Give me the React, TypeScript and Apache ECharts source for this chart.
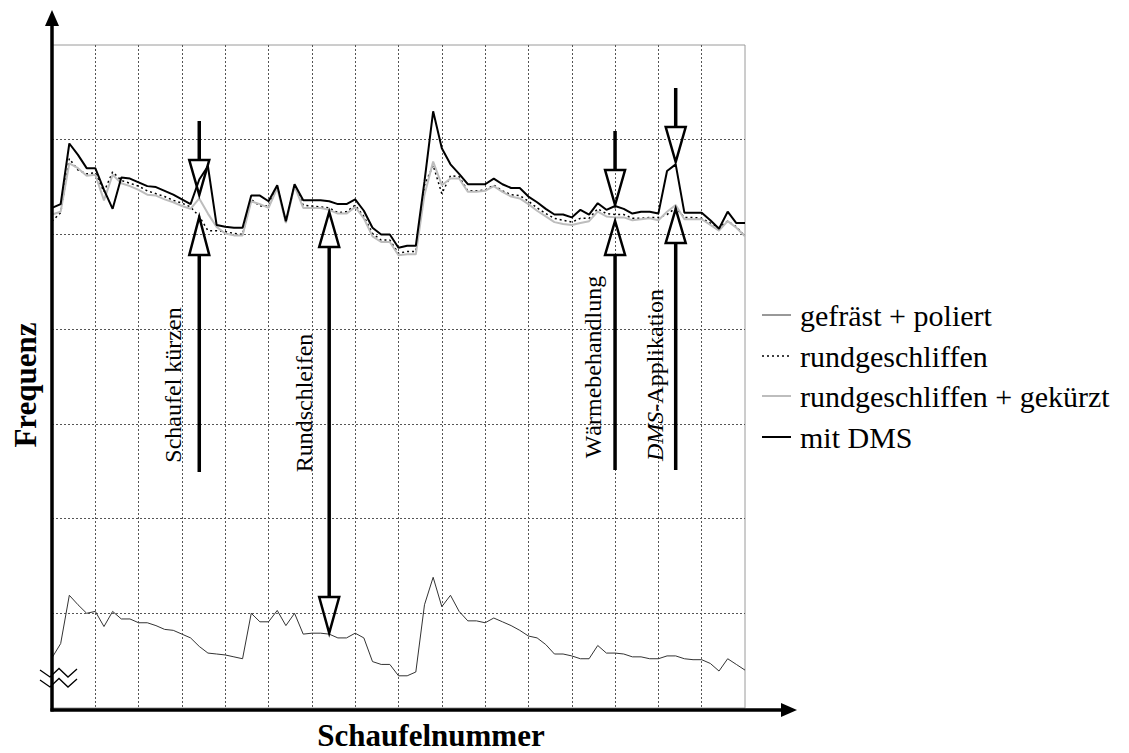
import React, { useEffect, useRef } from "react";
import * as echarts from "echarts";

// blade numbers (categories)
const blades: string[] = Array.from({ length: 81 }, (_, i) => String(i + 1));

// frequency readings (arbitrary units, y axis 0..700)
const gefraestPoliert = [
  53, 68, 119, 109, 100, 102, 86, 102, 94, 94,
  90, 90, 87, 83, 82, 78, 74, 65, 58, 57,
  56, 54, 52, 100, 91, 91, 103, 87, 100, 78,
  79, 79, 78, 74, 74, 79, 74, 49, 46, 46,
  34, 34, 38, 109, 138, 107, 119, 102, 92, 92,
  90, 95, 91, 87, 82, 76, 74, 67, 57, 57,
  55, 52, 52, 66, 58, 58, 57, 54, 54, 52,
  52, 55, 55, 52, 51, 51, 47, 39, 52, 46,
  40,
];

const rundgeschliffen = [
  514, 523, 580, 568, 564, 565, 545, 566, 557, 554,
  551, 546, 543, 540, 536, 533, 529, 519, 504, 504,
  503, 501, 500, 537, 530, 530, 551, 513, 552, 531,
  530, 529, 528, 523, 524, 531, 519, 501, 494, 494,
  480, 482, 482, 552, 573, 543, 562, 561, 546, 546,
  547, 552, 546, 542, 541, 535, 528, 522, 517, 515,
  513, 517, 517, 527, 522, 521, 521, 517, 517, 518,
  518, 521, 528, 518, 518, 517, 512, 507, 514, 508,
  498,
];

const rundgeschliffenGekuerzt = [
  521, 524, 575, 570, 562, 563, 536, 563, 554, 551,
  547, 542, 541, 537, 534, 530, 527, 538, 522, 508,
  501, 499, 499, 535, 532, 528, 549, 512, 551, 528,
  528, 528, 526, 522, 522, 529, 517, 498, 492, 492,
  478, 479, 479, 542, 577, 552, 559, 559, 545, 545,
  546, 551, 545, 540, 538, 532, 525, 519, 513, 511,
  510, 512, 514, 524, 519, 518, 518, 515, 516, 517,
  515, 524, 531, 516, 516, 516, 510, 504, 514, 507,
  498,
];

const mitDMS = [
  528, 532, 596, 584, 570, 570, 547, 527, 560, 559,
  555, 551, 550, 546, 542, 537, 532, 558, 572, 510,
  508, 507, 507, 541, 541, 535, 552, 514, 553, 536,
  536, 536, 535, 532, 532, 537, 525, 507, 500, 500,
  486, 488, 488, 556, 630, 591, 574, 564, 553, 553,
  553, 559, 553, 549, 549, 540, 534, 527, 521, 521,
  518, 526, 521, 533, 526, 530, 527, 522, 524, 524,
  522, 567, 574, 523, 523, 523, 515, 506, 524, 512,
  512,
];

const seriesNames = [
  "gefräst + poliert",
  "rundgeschliffen",
  "rundgeschliffen + gekürzt",
  "mit DMS",
];

// annotation process steps: label and blade index where the arrow sits
const stepLabels = ["Schaufel kürzen", "Rundschleifen", "Wärmebehandlung", "{i|DMS}-Applikation"];
const stepBlades = [17, 32, 65, 72];

const FONT = "Liberation Serif";

const lineStyles: any[] = [
  { color: "#333", width: 1 },
  { color: "#000", width: 1.5, type: [2, 3] },
  { color: "#bdbdbd", width: 2 },
  { color: "#000", width: 2 },
];

export default function App() {
  const ref = useRef<HTMLDivElement>(null);

  useEffect(() => {
    if (!ref.current) return;
    const chart = echarts.init(ref.current, null, { renderer: "svg" });

    const splitLine = {
      show: true,
      showMinLine: false,
      showMaxLine: false,
      lineStyle: { color: "#555", type: [2, 2] as any, width: 1 },
    };

    const dataSets = [gefraestPoliert, rundgeschliffen, rundgeschliffenGekuerzt, mitDMS];

    chart.setOption({
      animation: false,
      backgroundColor: "#fff",
      textStyle: { fontFamily: FONT },
      grid: {
        left: 52,
        top: 45,
        width: 693,
        height: 663,
        show: true,
        borderColor: "#9a9a9a",
        borderWidth: 1,
        backgroundColor: "transparent",
      },
      xAxis: {
        type: "category",
        data: blades,
        boundaryGap: false,
        axisLine: { show: false },
        axisTick: { show: false },
        axisLabel: { show: false },
        splitLine: { ...splitLine, interval: 4 },
      },
      yAxis: {
        type: "value",
        min: 0,
        max: 700,
        interval: 100,
        axisLine: { show: false },
        axisTick: { show: false },
        axisLabel: { show: false },
        splitLine,
      },
      legend: { show: false },
      series: dataSets.map((d, k) => ({
        name: seriesNames[k],
        type: "line",
        data: d,
        symbol: "none",
        lineStyle: lineStyles[k],
        itemStyle: { color: lineStyles[k].color },
      })),
    });

    // annotation geometry (pixel y positions)
    const arrowSpecs = [
      { topLine: [121, 160], down: [160, 195], up: [217, 255], botLine: [255, 472], text: [-26, 385] },
      { topLine: null, down: [597, 633], up: [212, 247], botLine: [247, 597], text: [-25, 403] },
      { topLine: [131, 170], down: [170, 205], up: [221, 255], botLine: [255, 470], text: [-22, 367] },
      { topLine: [88, 127], down: [127, 162], up: [209, 243], botLine: [243, 470], text: [-21, 375] },
    ];

    const elems: any[] = [];
    const black = "#000";
    stepBlades.forEach((b, k) => {
      const px = chart.convertToPixel({ xAxisIndex: 0 }, b) as number;
      const s = arrowSpecs[k];
      if (s.topLine) {
        elems.push({
          type: "line",
          z: 100,
          shape: { x1: px, y1: s.topLine[0], x2: px, y2: s.topLine[1] },
          style: { stroke: black, lineWidth: 3.5 },
        });
      }
      elems.push({
        type: "line",
        z: 100,
        shape: { x1: px, y1: s.botLine[0], x2: px, y2: s.botLine[1] },
        style: { stroke: black, lineWidth: 3.5 },
      });
      elems.push({
        type: "polygon",
        z: 100,
        shape: { points: [[px - 10, s.down[0]], [px + 10, s.down[0]], [px, s.down[1]]] },
        style: { fill: null, stroke: black, lineWidth: 2.5 },
      });
      elems.push({
        type: "polygon",
        z: 100,
        shape: { points: [[px - 10, s.up[1]], [px + 10, s.up[1]], [px, s.up[0]]] },
        style: { fill: null, stroke: black, lineWidth: 2.5 },
      });
      elems.push({
        type: "text",
        z: 100,
        x: px + s.text[0],
        y: s.text[1],
        rotation: Math.PI / 2,
        style: {
          text: stepLabels[k],
          fontFamily: FONT,
          fontSize: 24,
          fill: black,
          align: "center",
          verticalAlign: "middle",
          rich: { i: { fontStyle: "italic", fontFamily: FONT, fontSize: 24 } },
        },
      });
    });

    // legend (drawn with graphic elements)
    const legendRows = [315, 356, 396, 437];
    seriesNames.forEach((name, k) => {
      const ls = lineStyles[k];
      elems.push({
        type: "line",
        z: 100,
        shape: { x1: 762, y1: legendRows[k], x2: 791, y2: legendRows[k] },
        style: {
          stroke: ls.color,
          lineWidth: ls.width,
          lineDash: ls.type ? ls.type : null,
        },
      });
      elems.push({
        type: "text",
        z: 100,
        x: 800,
        y: legendRows[k],
        style: {
          text: name,
          fontFamily: FONT,
          fontSize: 30,
          fill: black,
          align: "left",
          verticalAlign: "middle",
        },
      });
    });

    // axes with arrows
    elems.push(
      {
        type: "line",
        z: 110,
        shape: { x1: 52, y1: 22, x2: 52, y2: 711.5 },
        style: { stroke: black, lineWidth: 3.5 },
      },
      {
        type: "polygon",
        z: 110,
        shape: { points: [[45, 26], [59, 26], [52, 10]] },
        style: { fill: black },
      },
      {
        type: "line",
        z: 110,
        shape: { x1: 50.5, y1: 710, x2: 784, y2: 710 },
        style: { stroke: black, lineWidth: 3.5 },
      },
      {
        type: "polygon",
        z: 110,
        shape: { points: [[781, 703], [781, 717], [797, 710]] },
        style: { fill: black },
      },
      // axis break marks
      {
        type: "polyline",
        z: 111,
        shape: { points: [[40, 670], [50, 677], [59, 668.5], [68, 677], [77, 669]] },
        style: { stroke: black, lineWidth: 1.3, fill: null },
      },
      {
        type: "polyline",
        z: 111,
        shape: { points: [[40, 680], [50, 687], [59, 678.5], [68, 687], [77, 679]] },
        style: { stroke: black, lineWidth: 1.3, fill: null },
      },
      // axis titles
      {
        type: "text",
        z: 110,
        x: 25,
        y: 385,
        rotation: Math.PI / 2,
        style: {
          text: "Frequenz",
          fontFamily: FONT,
          fontSize: 31,
          fontWeight: "bold",
          fill: black,
          align: "center",
          verticalAlign: "middle",
        },
      },
      {
        type: "text",
        z: 110,
        x: 431,
        y: 735,
        style: {
          text: "Schaufelnummer",
          fontFamily: FONT,
          fontSize: 31,
          fontWeight: "bold",
          fill: black,
          align: "center",
          verticalAlign: "middle",
        },
      }
    );

    chart.setOption({ graphic: elems });

    return () => chart.dispose();
  }, []);

  return (
    <div
      ref={ref}
      style={{ position: "fixed", left: 0, top: 0, width: 1129, height: 753, background: "#fff" }}
    />
  );
}
